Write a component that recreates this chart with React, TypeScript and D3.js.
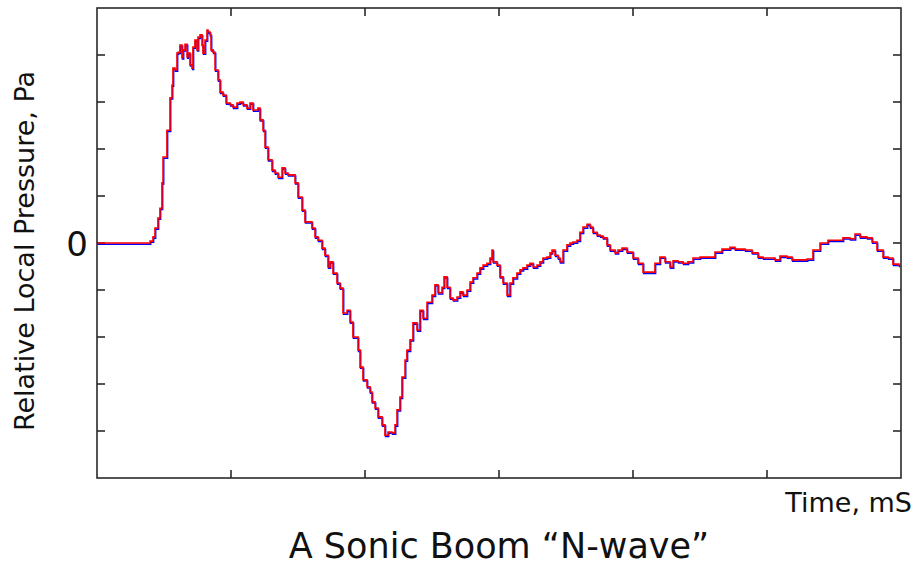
import React, { useEffect, useRef } from 'react';
import * as d3 from 'd3';

// time axis, ms (ticks every 10, unlabeled)
const timeMs = [
  0, 3.81, 3.96, 4.18, 4.33, 4.55, 4.7, 4.85, 4.93, 5.22, 5.45, 5.6, 5.67, 5.82, 5.97, 6.04,
  6.19, 6.34, 6.42, 6.57, 6.72, 6.79, 6.94, 7.09, 7.16, 7.31, 7.46, 7.54, 7.69, 7.84, 7.91,
  8.06, 8.21, 8.28, 8.43, 8.51, 8.66, 8.81, 9.03, 9.18, 9.4, 9.63, 9.93, 10.15, 10.45, 10.67,
  10.9, 11.19, 11.42, 11.64, 12.01, 12.16, 12.39, 12.54, 12.76, 13.06, 13.28, 13.51, 13.81,
  14.03, 14.25, 14.55, 14.78, 15.0, 15.3, 15.52, 15.75, 16.04, 16.27, 16.49, 16.79, 17.01,
  17.24, 17.39, 17.61, 17.91, 18.13, 18.36, 18.66, 18.88, 19.1, 19.48, 19.63, 19.85, 20.15,
  20.37, 20.52, 20.75, 20.97, 21.27, 21.49, 21.72, 22.01, 22.24, 22.39, 22.61, 22.76, 22.99,
  23.13, 23.36, 23.58, 23.88, 24.1, 24.33, 24.63, 25.0, 25.22, 25.45, 25.75, 25.9, 26.12,
  26.34, 26.57, 26.87, 27.09, 27.31, 27.61, 27.84, 28.06, 28.36, 28.58, 28.81, 29.1, 29.33,
  29.48, 29.55, 29.85, 30.07, 30.3, 30.6, 30.82, 31.04, 31.34, 31.57, 31.79, 32.09, 32.31,
  32.54, 32.84, 33.06, 33.28, 33.58, 33.81, 33.96, 34.18, 34.4, 34.55, 34.78, 35.07, 35.3,
  35.52, 35.82, 36.04, 36.27, 36.57, 36.79, 37.01, 37.31, 37.54, 37.76, 38.06, 38.28, 38.66,
  38.88, 39.18, 39.55, 40.0, 40.37, 40.75, 41.27, 41.64, 42.01, 42.39, 42.76, 42.99, 43.36,
  43.73, 44.1, 44.48, 45.0, 45.6, 46.12, 46.64, 47.24, 47.61, 48.36, 48.88, 49.33, 49.7,
  50.22, 50.6, 50.97, 51.49, 51.87, 52.46, 52.99, 53.43, 53.96, 54.55, 55.22, 55.67, 56.19,
  56.57, 56.94, 57.46, 57.84, 58.21, 58.66, 59.03, 59.4, 59.85,
];

// relative local pressure (ticks every 10, only 0 labeled)
const pressure = [
  0, 0, 0.4, 1.3, 3.2, 5.3, 7.4, 12.8, 18.3, 24.0, 30.9, 33.6, 37.2, 36.8, 40.4, 40.6,
  42.1, 39.4, 41.1, 42.3, 39.6, 40.4, 37.9, 37.2, 41.7, 43.2, 41.1, 43.8, 44.3, 42.1, 40.4,
  43.2, 45.3, 44.9, 44.3, 41.1, 40.6, 36.8, 34.7, 32.1, 31.5, 29.8, 29.4, 28.9, 29.8, 30.0,
  29.4, 28.7, 29.8, 28.3, 28.7, 26.2, 24.0, 20.4, 17.7, 15.5, 14.9, 14.0, 16.0,
  14.9, 14.5, 14.5, 12.8, 9.8, 7.0, 4.5, 4.5, 3.2, 1.3, 0.6, -1.1, -2.6,
  -5.1, -4.0, -6.4, -8.5, -9.6, -14.9, -14.3, -16.8, -20.0, -22.8, -26.4, -29.1, -30.6,
  -31.7, -33.8, -35.1, -37.0, -38.7, -40.9, -40.2, -40.4, -38.7, -35.5, -32.8, -28.5, -24.9,
  -22.8, -20.6, -17.0, -18.5, -14.3, -16.0, -12.6, -11.1, -8.9, -10.6, -9.4, -7.2, -9.4,
  -11.7, -12.1, -11.5, -10.4, -11.1, -10.0, -8.3, -7.4, -6.4, -5.3, -4.7, -4.3, -3.2,
  -1.5, -4.0, -4.7, -7.2, -8.5, -11.1, -8.5, -7.4, -6.4, -5.7, -5.3, -4.7, -4.3,
  -5.1, -4.7, -4.0, -3.2, -3.0, -2.1, -1.5, -2.6, -3.2, -4.0, -1.5, -0.4, 0,
  0.2, 0.6, 2.3, 3.4, 4.0, 3.4, 2.3, 1.7, 1.5, 1.1, -0.4, -1.5, -2.1,
  -1.5, -1.1, -1.9, -3.2, -4.3, -6.2, -6.2, -4.3, -3.0, -4.0, -5.1, -3.8, -4.0,
  -4.3, -4.0, -3.2, -3.0, -3.0, -1.9, -1.3, -0.9, -1.3, -1.5, -2.1, -3.0, -3.2,
  -3.2, -3.6, -2.8, -3.0, -3.6, -3.6, -3.4, -1.5, 0, 0.6, 0.6, 1.1, 0.9,
  1.9, 1.3, 1.1, 0.2, -1.5, -3.0, -3.2, -4.5, -4.9,
];

const timeTicks = [10, 20, 30, 40, 50];
const pressureTicks = [-40, -30, -20, -10, 0, 10, 20, 30, 40];

const W = 917;
const H = 567;
const margin = { top: 8, right: 16, bottom: 89, left: 97 };
const FONT = '"DejaVu Sans", Verdana, sans-serif';

export default function App() {
  const svgRef = useRef<SVGSVGElement>(null);

  useEffect(() => {
    const svg = d3.select(svgRef.current);
    svg.selectAll('*').remove();

    const x = d3.scaleLinear().domain([0, 60]).range([margin.left, W - margin.right]);
    const y = d3.scaleLinear().domain([-50, 50]).range([H - margin.bottom, margin.top]);

    const pts: [number, number][] = timeMs.map((t, i) => [t, pressure[i]]);
    const line = d3.line<[number, number]>()
      .x(d => x(d[0]))
      .y(d => y(d[1]))
      .curve(d3.curveStepAfter);

    const tl = 8;
    const axisColor = '#2a2a2a';
    const ticks = svg.append('g').attr('stroke', axisColor).attr('stroke-width', 1.6);

    // inward ticks on all four sides
    timeTicks.forEach(t => {
      ticks.append('line').attr('x1', x(t)).attr('x2', x(t)).attr('y1', y(-50)).attr('y2', y(-50) - tl);
      ticks.append('line').attr('x1', x(t)).attr('x2', x(t)).attr('y1', y(50)).attr('y2', y(50) + tl);
    });
    pressureTicks.forEach(p => {
      ticks.append('line').attr('x1', x(0)).attr('x2', x(0) + tl).attr('y1', y(p)).attr('y2', y(p));
      ticks.append('line').attr('x1', x(60)).attr('x2', x(60) - tl).attr('y1', y(p)).attr('y2', y(p));
    });

    // blue trace sits just under the red one
    svg.append('path')
      .datum(pts)
      .attr('fill', 'none')
      .attr('stroke', '#0000ff')
      .attr('stroke-width', 1.6)
      .attr('transform', 'translate(0.6,1.2)')
      .attr('d', line);

    svg.append('path')
      .datum(pts)
      .attr('fill', 'none')
      .attr('stroke', '#ff0000')
      .attr('stroke-width', 1.6)
      .attr('d', line);

    // frame
    svg.append('rect')
      .attr('x', x(0))
      .attr('y', y(50))
      .attr('width', x(60) - x(0))
      .attr('height', y(-50) - y(50))
      .attr('fill', 'none')
      .attr('stroke', axisColor)
      .attr('stroke-width', 1.6);

    // labels
    svg.append('text')
      .attr('x', x(0) - 9)
      .attr('y', y(0) + 13)
      .attr('text-anchor', 'end')
      .attr('font-family', FONT)
      .attr('font-size', 34)
      .attr('fill', '#111')
      .text('0');

    svg.append('text')
      .attr('transform', `translate(34,${(y(-50) + y(50)) / 2 + 8}) rotate(-90)`)
      .attr('text-anchor', 'middle')
      .attr('font-family', FONT)
      .attr('font-size', 27)
      .attr('fill', '#111')
      .text('Relative Local Pressure, Pa');

    svg.append('text')
      .attr('x', 912)
      .attr('y', 512)
      .attr('text-anchor', 'end')
      .attr('font-family', FONT)
      .attr('font-size', 27)
      .attr('fill', '#111')
      .text('Time, mS');

    svg.append('text')
      .attr('x', (x(0) + x(60)) / 2)
      .attr('y', 558)
      .attr('text-anchor', 'middle')
      .attr('font-family', FONT)
      .attr('font-size', 35)
      .attr('fill', '#111')
      .text('A Sonic Boom \u201CN-wave\u201D');
  }, []);

  return (
    <svg
      ref={svgRef}
      width={W}
      height={H}
      style={{ position: 'absolute', left: 0, top: 0, background: '#fff' }}
    />
  );
}
